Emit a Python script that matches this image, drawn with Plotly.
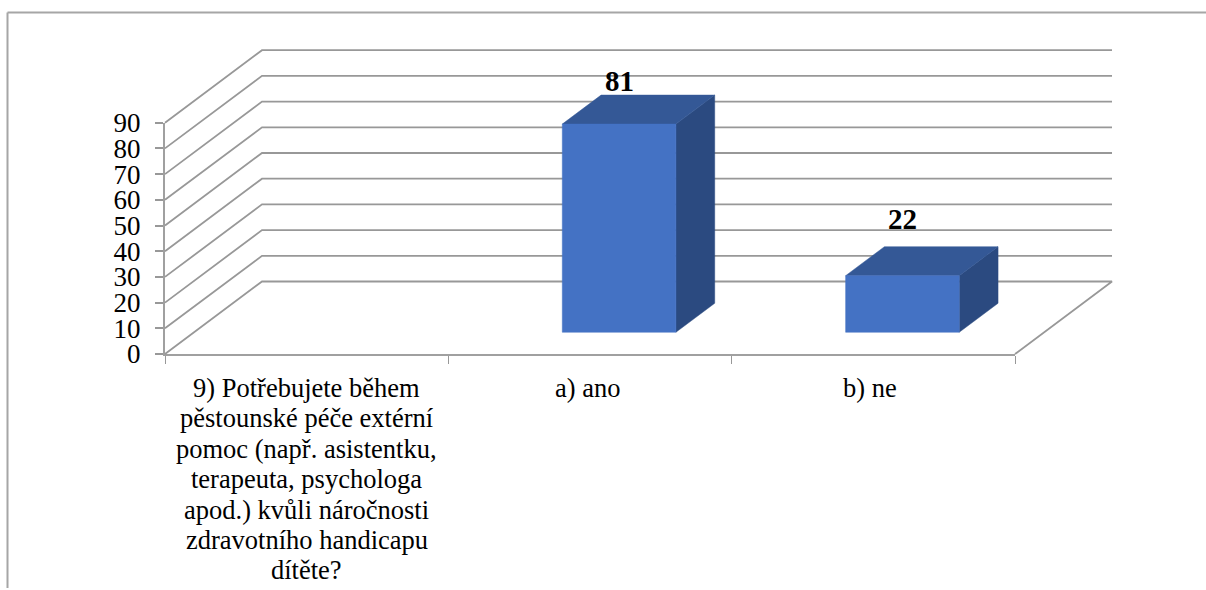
import plotly.graph_objects as go

# Data
category_lines = [
    ["9) Potřebujete během", "pěstounské péče extérní", "pomoc (např. asistentku,",
     "terapeuta, psychologa", "apod.) kvůli náročnosti", "zdravotního handicapu", "dítěte?"],
    ["a) ano"],
    ["b) ne"],
]
values = [None, 81, 22]
value_ticks = [0, 10, 20, 30, 40, 50, 60, 70, 80, 90]
label_lift = [0, 43, 57]
label_shift = [0, -3, -3]

# Layout in pixels
W, H = 1206, 590
LEFT, RIGHT, BASE, TOPY = 165, 1015, 354, 122.7
N = len(category_lines)
UX = (RIGHT - LEFT) / N
UY = (BASE - TOPY) / 90

# Oblique projection (in axis units)
DEPTH_X = 97 / UX
DEPTH_Y = 72.5 / UY
BAR_WIDTH = 0.401
BAR_NEAR = 0.30
BAR_FAR = 0.70
GRID = "#989898"
AXIS = "#A0A0A0"
FRONT, TOP, SIDE = "#4472C4", "#345896", "#2B4A80"
SERIF = "Liberation Serif"


def proj(x, y, d):
    return x + DEPTH_X * d, y + DEPTH_Y * d


def poly(points, color):
    xs = [p[0] for p in points] + [points[0][0]]
    ys = [p[1] for p in points] + [points[0][1]]
    return go.Scatter(x=xs, y=ys, mode="lines", fill="toself", fillcolor=color,
                      line=dict(color=color, width=0.5), hoverinfo="skip",
                      showlegend=False, xaxis="x2", yaxis="y2")


fig = go.Figure()

# Keeps the visible axes alive
fig.add_trace(go.Scatter(x=[0], y=[0], mode="markers", marker=dict(opacity=0),
                         hoverinfo="skip", showlegend=False))

# Walls: gridlines run from the front axis back, then along the back wall
for v in value_ticks:
    pts = [proj(0, v, 0), proj(0, v, 1), proj(N, v, 1)]
    if v == 0:
        pts.append(proj(N, 0, 0))
    fig.add_trace(go.Scatter(x=[p[0] for p in pts], y=[p[1] for p in pts], mode="lines",
                             line=dict(color=GRID, width=1.8), hoverinfo="skip",
                             showlegend=False, xaxis="x2", yaxis="y2"))

# Bars
for i, v in enumerate(values):
    if v is None:
        continue
    x0 = i + (1 - BAR_WIDTH) / 2
    x1 = x0 + BAR_WIDTH
    fig.add_trace(poly([proj(x1, 0, BAR_NEAR), proj(x1, 0, BAR_FAR), proj(x1, v, BAR_FAR), proj(x1, v, BAR_NEAR)], SIDE))
    fig.add_trace(poly([proj(x0, v, BAR_NEAR), proj(x1, v, BAR_NEAR), proj(x1, v, BAR_FAR), proj(x0, v, BAR_FAR)], TOP))
    fig.add_trace(poly([proj(x0, 0, BAR_NEAR), proj(x1, 0, BAR_NEAR), proj(x1, v, BAR_NEAR), proj(x0, v, BAR_NEAR)], FRONT))
    lx, ly = proj((x0 + x1) / 2, v, BAR_NEAR)
    fig.add_annotation(x=lx, y=ly, xref="x2", yref="y2", text=str(v), showarrow=False,
                       yshift=label_lift[i], xanchor="center", yanchor="middle",
                       font=dict(family=SERIF, size=29, color="black", weight="bold"))

# Category labels, one annotation per line to hold the line spacing
for i, lines in enumerate(category_lines):
    for k, line in enumerate(lines):
        fig.add_annotation(x=i + 0.5, y=0, xref="x", yref="y", text=line, showarrow=False,
                           xanchor="center", yanchor="middle", xshift=label_shift[i],
                           yshift=-(34 + 30.4 * k),
                           font=dict(family=SERIF, size=26.5, color="black"))

fig.update_layout(
    width=W, height=H,
    margin=dict(l=0, r=0, t=0, b=0, pad=0),
    paper_bgcolor="white", plot_bgcolor="rgba(0,0,0,0)",
    showlegend=False,
    xaxis=dict(domain=[LEFT / W, RIGHT / W], range=[0, N], tickvals=list(range(N + 1)),
               showticklabels=False, ticks="outside", ticklen=8, tickcolor=GRID, tickwidth=1,
               showgrid=False, zeroline=False, showline=True, linecolor=AXIS, linewidth=2,
               anchor="y", automargin=False),
    yaxis=dict(domain=[(H - BASE) / H, (H - TOPY) / H], range=[0, 90], tickvals=value_ticks,
               ticks="outside", ticklen=8, tickcolor=GRID, tickwidth=1.5, showgrid=False,
               zeroline=False, showline=True, linecolor=AXIS, linewidth=2, anchor="x",
               tickfont=dict(family=SERIF, size=27, color="black"), ticklabelstandoff=9,
               automargin=False),
    xaxis2=dict(domain=[0, 1], range=[-LEFT / UX, (W - LEFT) / UX], visible=False,
                anchor="y2", automargin=False),
    yaxis2=dict(domain=[0, 1], range=[-(H - BASE) / UY, BASE / UY], visible=False,
                anchor="x2", automargin=False),
    shapes=[
        dict(type="line", xref="paper", yref="paper", x0=7.5 / W, x1=1, y0=1 - 12.5 / H, y1=1 - 12.5 / H,
             line=dict(color="#A6A6A6", width=2)),
        dict(type="line", xref="paper", yref="paper", x0=7.5 / W, x1=7.5 / W, y0=1 - 12.5 / H, y1=2 / H,
             line=dict(color="#A6A6A6", width=2)),
    ],
)

fig.write_html("out.html", config=dict(displayModeBar=False),
               post_script="document.body.style.margin='0';")
